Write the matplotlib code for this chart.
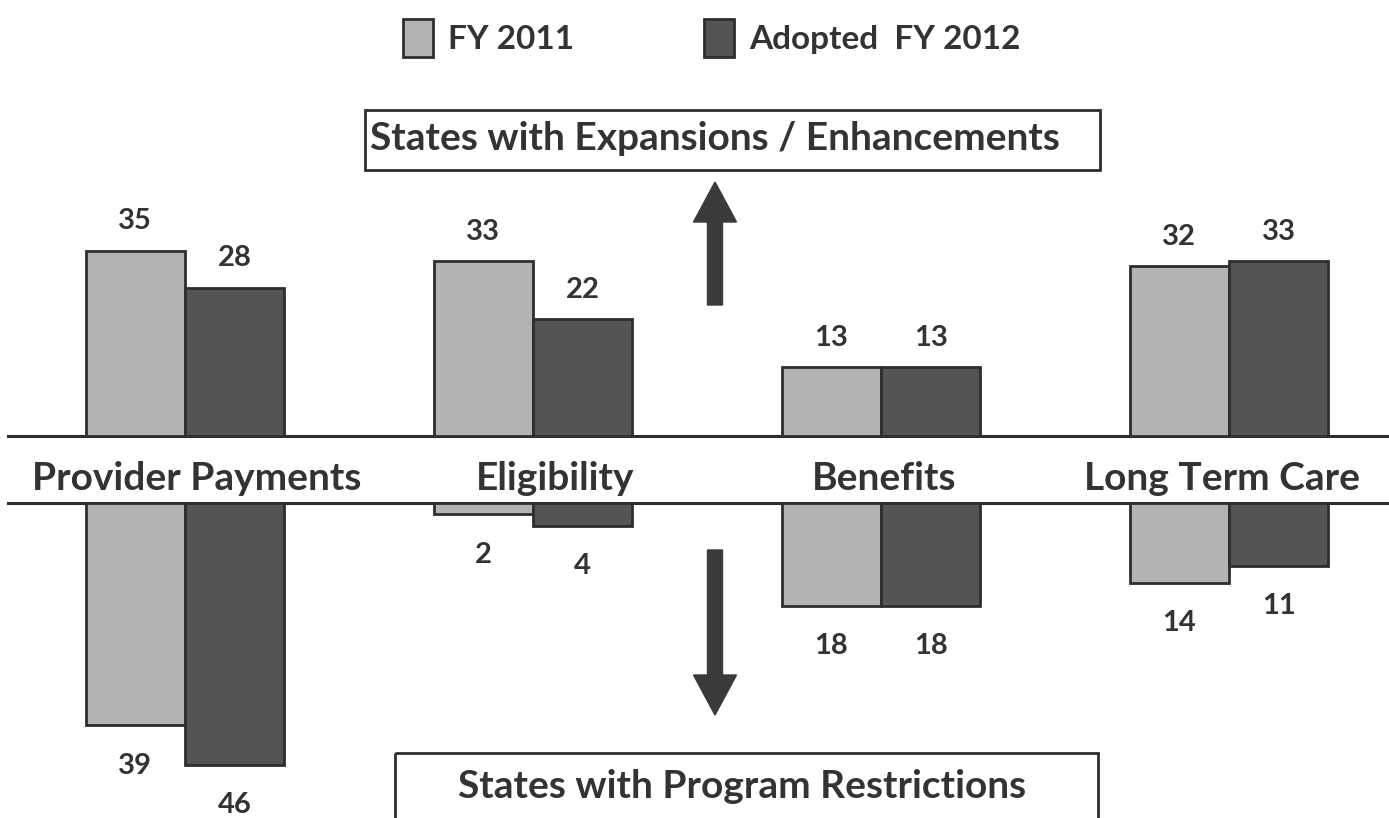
import matplotlib
matplotlib.use("Agg")
import matplotlib.pyplot as plt
import numpy as np
from matplotlib.patches import FancyArrow, Rectangle
from matplotlib.lines import Line2D

categories = ["Provider Payments", "Eligibility", "Benefits", "Long Term Care"]
series_names = ["FY 2011", "Adopted  FY 2012"]
expansions_fy2011 = [35, 33, 13, 32]
expansions_fy2012 = [28, 22, 13, 33]
restrictions_fy2011 = [39, 2, 18, 14]
restrictions_fy2012 = [46, 4, 18, 11]
top_box_text = "States with Expansions / Enhancements"
bottom_box_text = "States with Program Restrictions"

LIGHT = "#b3b3b3"
DARK = "#545454"
EDGE = "#2e2e2e"
TEXT = "#333333"
FONT = ["Lato", "DejaVu Sans"]

plt.rcParams["font.family"] = FONT

W, H = 1389, 818
fig = plt.figure(figsize=(W / 100, H / 100), dpi=100)
fig.patch.set_facecolor("white")

x = np.arange(len(categories))
bw = 0.285
group_px = 348.0
x0_px = 185.0
xlim = (-x0_px / group_px, (W - x0_px) / group_px)


def px_rect(left, top, right, bottom):
    return [left / W, 1 - bottom / H, (right - left) / W, (bottom - top) / H]


# upper panel: expansions, baseline at y=436 px
ax_top = fig.add_axes(px_rect(0, 180, W, 436))
top_scale = 5.3
ax_top.set_xlim(*xlim)
ax_top.set_ylim(0, 256 / top_scale)
# lower panel: restrictions, baseline at y=503 px
ax_bot = fig.add_axes(px_rect(0, 503, W, H))
bot_scale = 5.7
ax_bot.set_xlim(*xlim)
ax_bot.set_ylim(-315 / bot_scale, 0)

for ax in (ax_top, ax_bot):
    ax.axis("off")

bar_kw = dict(edgecolor=EDGE, linewidth=2)
b1 = ax_top.bar(x - bw / 2, expansions_fy2011, bw, color=LIGHT, label=series_names[0], **bar_kw)
b2 = ax_top.bar(x + bw / 2, expansions_fy2012, bw, color=DARK, label=series_names[1], **bar_kw)
ax_bot.bar(x - bw / 2, [-v for v in restrictions_fy2011], bw, color=LIGHT, **bar_kw)
ax_bot.bar(x + bw / 2, [-v for v in restrictions_fy2012], bw, color=DARK, **bar_kw)

val_kw = dict(textcoords="offset points", ha="center", va="center",
              fontsize=21, fontweight="bold", color=TEXT)
for xs, vals in ((x - bw / 2, expansions_fy2011), (x + bw / 2, expansions_fy2012)):
    for xi, v in zip(xs, vals):
        ax_top.annotate(str(v), (xi, v), xytext=(0, 21), **val_kw)
for xs, vals in ((x - bw / 2, restrictions_fy2011), (x + bw / 2, restrictions_fy2012)):
    for xi, v in zip(xs, vals):
        ax_bot.annotate(str(v), (xi, -v), xytext=(0, -29), **val_kw)

# overlay in pixel coordinates for the band, boxes and arrows
ov = fig.add_axes([0, 0, 1, 1], zorder=-1)
ov.set_xlim(0, W)
ov.set_ylim(H, 0)
ov.axis("off")

ov.add_line(Line2D([8, W], [436, 436], color=EDGE, lw=2.2))
ov.add_line(Line2D([8, W], [503, 503], color=EDGE, lw=2.2))

label_y = 478
label_shift = [12, 22, 3, -7]
for xi, name, dx in zip(x, categories, label_shift):
    px = x0_px + xi * group_px + dx
    ov.text(px, label_y, name, ha="center", va="center", fontsize=28,
            fontweight="bold", color=TEXT)

ov.add_patch(Rectangle((365, 110), 735, 60, fill=False, edgecolor=EDGE, lw=2))
ov.text(715, 139, top_box_text, ha="center", va="center", fontsize=28,
        fontweight="bold", color=TEXT)
ov.add_patch(Rectangle((395, 753), 703, 80, fill=False, edgecolor=EDGE, lw=2, clip_on=False))
ov.text(742, 786, bottom_box_text, ha="center", va="center", fontsize=28,
        fontweight="bold", color=TEXT)

ov.add_patch(FancyArrow(715, 305, 0, -123, width=15, head_width=43, head_length=40,
                        length_includes_head=True, color="#3a3a3a"))
ov.add_patch(FancyArrow(715, 550, 0, 165, width=15, head_width=43, head_length=40,
                        length_includes_head=True, color="#3a3a3a"))

leg = fig.legend(handles=[b1, b2], labels=series_names, loc="center",
                 bbox_to_anchor=(712 / W, 1 - 38 / H), ncol=2, frameon=False,
                 fontsize=24, handlelength=0.9, handleheight=1.4, columnspacing=3.9,
                 handletextpad=0.45)
for t in leg.get_texts():
    t.set_fontweight("bold")
    t.set_color(TEXT)

fig.savefig("out.png", dpi=100, facecolor="white")
